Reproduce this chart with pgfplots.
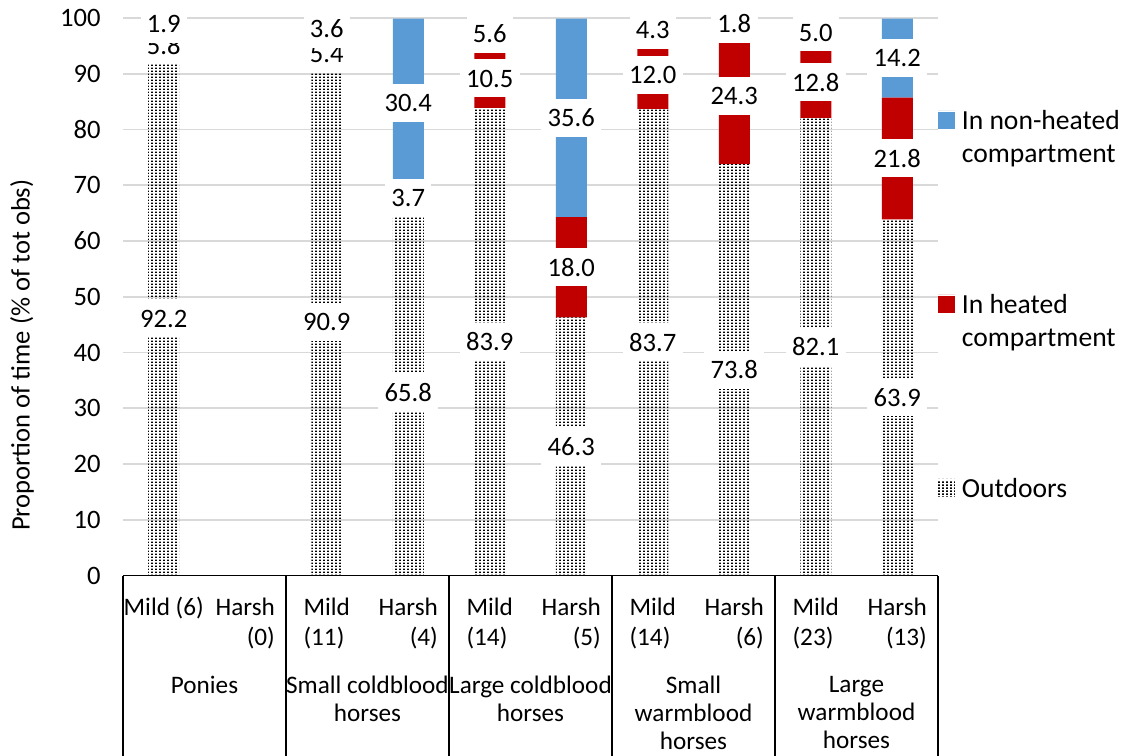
\documentclass[border=0pt]{standalone}
\usepackage{fontspec}
\setmainfont{Carlito}
\usepackage{pgfplots}
\usepackage{pgfplotstable}
\pgfplotsset{compat=1.18}
\usetikzlibrary{patterns}
\definecolor{nhblue}{HTML}{5B9BD5}
\definecolor{hred}{HTML}{C00000}
\definecolor{gridgray}{HTML}{D9D9D9}
\pgfdeclarepatternformonly{exceldots}{\pgfpointorigin}{\pgfpoint{1.75pt}{1.5pt}}{\pgfpoint{1.75pt}{1.5pt}}{\pgfpathrectangle{\pgfpointorigin}{\pgfpoint{1pt}{0.95pt}}\pgfusepath{fill}}
\pgfplotsset{sqlegend/.style={legend image code/.code={\path (0pt,0pt) -- (8.4pt,0pt); \fill[##1] (0pt,-1pt) rectangle (8.4pt,-9.3pt);}}}
\newcommand\mildl[1]{\begin{tabular}{@{}l@{}}Mild\\(#1)\end{tabular}}
\newcommand\harshl[1]{\begin{tabular}{@{}r@{}}Harsh\\(#1)\end{tabular}}
\tikzset{grouplab/.style={anchor=north, align=center, inner sep=0pt, yshift=-50pt, font=\fontsize{12.6}{14}\selectfont}}

\pgfplotstableread{
x O H N
0 92.2 5.8 1.9
2 90.9 5.4 3.6
3 65.8 3.7 30.4
4 83.9 10.5 5.6
5 46.3 18.0 35.6
6 83.7 12.0 4.3
7 73.8 24.3 1.8
8 82.1 12.8 5.0
9 63.9 21.8 14.2
}\horsedata

\begin{document}
\fontsize{13.3}{15}\selectfont
\begin{tikzpicture}
\begin{axis}[
  scale only axis, width=407.5pt, height=278.75pt,
  xmin=-0.5, xmax=9.5, ymin=0, ymax=100,
  clip=false,
  ybar stacked, bar width=15.5pt,
  axis x line*=bottom, axis y line*=left,
  y axis line style={draw=none}, x axis line style={black, line width=0.6pt},
  ytick={0,10,...,100}, ymajorgrids, grid style={gridgray, line width=0.8pt},
  ytick style={draw=none}, xtick style={draw=none}, major tick length=0pt,
  xtick={0,...,9},
  xticklabels={{\begin{tabular}{@{}l@{}}Mild (6)\end{tabular}},{\harshl{0}},{\mildl{11}},{\harshl{4}},{\mildl{14}},{\harshl{5}},{\mildl{14}},{\harshl{6}},{\mildl{23}},{\harshl{13}}},
  xticklabel style={anchor=north, inner sep=0pt, yshift=-9.5pt, font=\fontsize{12.6}{15}\selectfont},
  yticklabel style={anchor=east, inner sep=0pt, xshift=-11pt},
  /pgf/number format/assume math mode=true,
  extra x ticks={-0.5,1.5,3.5,5.5,7.5,9.5}, extra x tick labels={},
  extra x tick style={major tick length=90pt, tick align=outside, grid=none, xtick style={draw=black, line width=0.6pt}},
  ylabel={Proportion of time (\% of tot obs)},
  every axis y label/.style={at={(axis description cs:-0.1239,0.395)}, anchor=center, rotate=90},
  legend style={at={(1,1)}, anchor=north west, yshift=-46pt, draw=none, fill=none, inner sep=0pt, outer sep=0pt,
    row sep=64pt, column sep=3.5pt, cells={anchor=north west},
    nodes={align=left, inner sep=0pt, font=\fontsize{13.8}{16.5}\selectfont}},
  reverse legend,
]
\addplot[draw=none, pattern=exceldots, pattern color=black, sqlegend] table[x=x, y=O]{\horsedata};
\addlegendentry{Outdoors}
\addplot[draw=none, fill=hred, sqlegend] table[x=x, y=H]{\horsedata};
\addlegendentry{In heated\\compartment}
\addplot[draw=none, fill=nhblue, sqlegend] table[x=x, y=N]{\horsedata};
\addlegendentry{In non-heated\\compartment}
\node[grouplab] at (axis cs:0.5,0) {Ponies};
\node[grouplab] at (axis cs:2.5,0) {Small coldblood\\horses};
\node[grouplab] at (axis cs:4.5,0) {Large coldblood\\horses};
\node[grouplab] at (axis cs:6.5,0) {Small\\warmblood\\horses};
\node[grouplab] at (axis cs:8.5,0) {Large\\warmblood\\horses};
\end{axis}
\begin{axis}[
  scale only axis, width=407.5pt, height=278.75pt,
  xmin=-0.5, xmax=9.5, ymin=0, ymax=100,
  hide axis, clip=false,
  nodes near coords, point meta=explicit symbolic, nodes near coords align={center},
  every node near coord/.append style={fill=white, inner xsep=3.2pt, inner ysep=0pt, minimum height=19pt, text=black, font=\fontsize{13.3}{15}\selectfont},
]
\addplot[draw=none, mark=none] coordinates {(0,46.1)[92.2] (2,45.45)[90.9] (3,32.9)[65.8] (4,41.95)[83.9] (5,23.15)[46.3] (6,41.85)[83.7] (7,36.9)[73.8] (8,41.05)[82.1] (9,31.95)[63.9]};
\addplot[draw=none, mark=none] coordinates {(0,95.1)[5.8] (2,93.6)[5.4] (3,67.65)[3.7] (4,89.15)[10.5] (5,55.3)[18.0] (6,89.7)[12.0] (7,85.95)[24.3] (8,88.5)[12.8] (9,74.8)[21.8]};
\addplot[draw=none, mark=none] coordinates {(0,98.95)[1.9] (2,98.1)[3.6] (3,84.7)[30.4] (4,97.2)[5.6] (5,82.1)[35.6] (6,97.85)[4.3] (7,99.0)[1.8] (8,97.4)[5.0] (9,92.8)[14.2]};
\end{axis}
\pgfresetboundingbox
\path[use as bounding box] (-61.5pt,-90pt) rectangle (502pt,287.75pt);
\end{tikzpicture}
\end{document}
